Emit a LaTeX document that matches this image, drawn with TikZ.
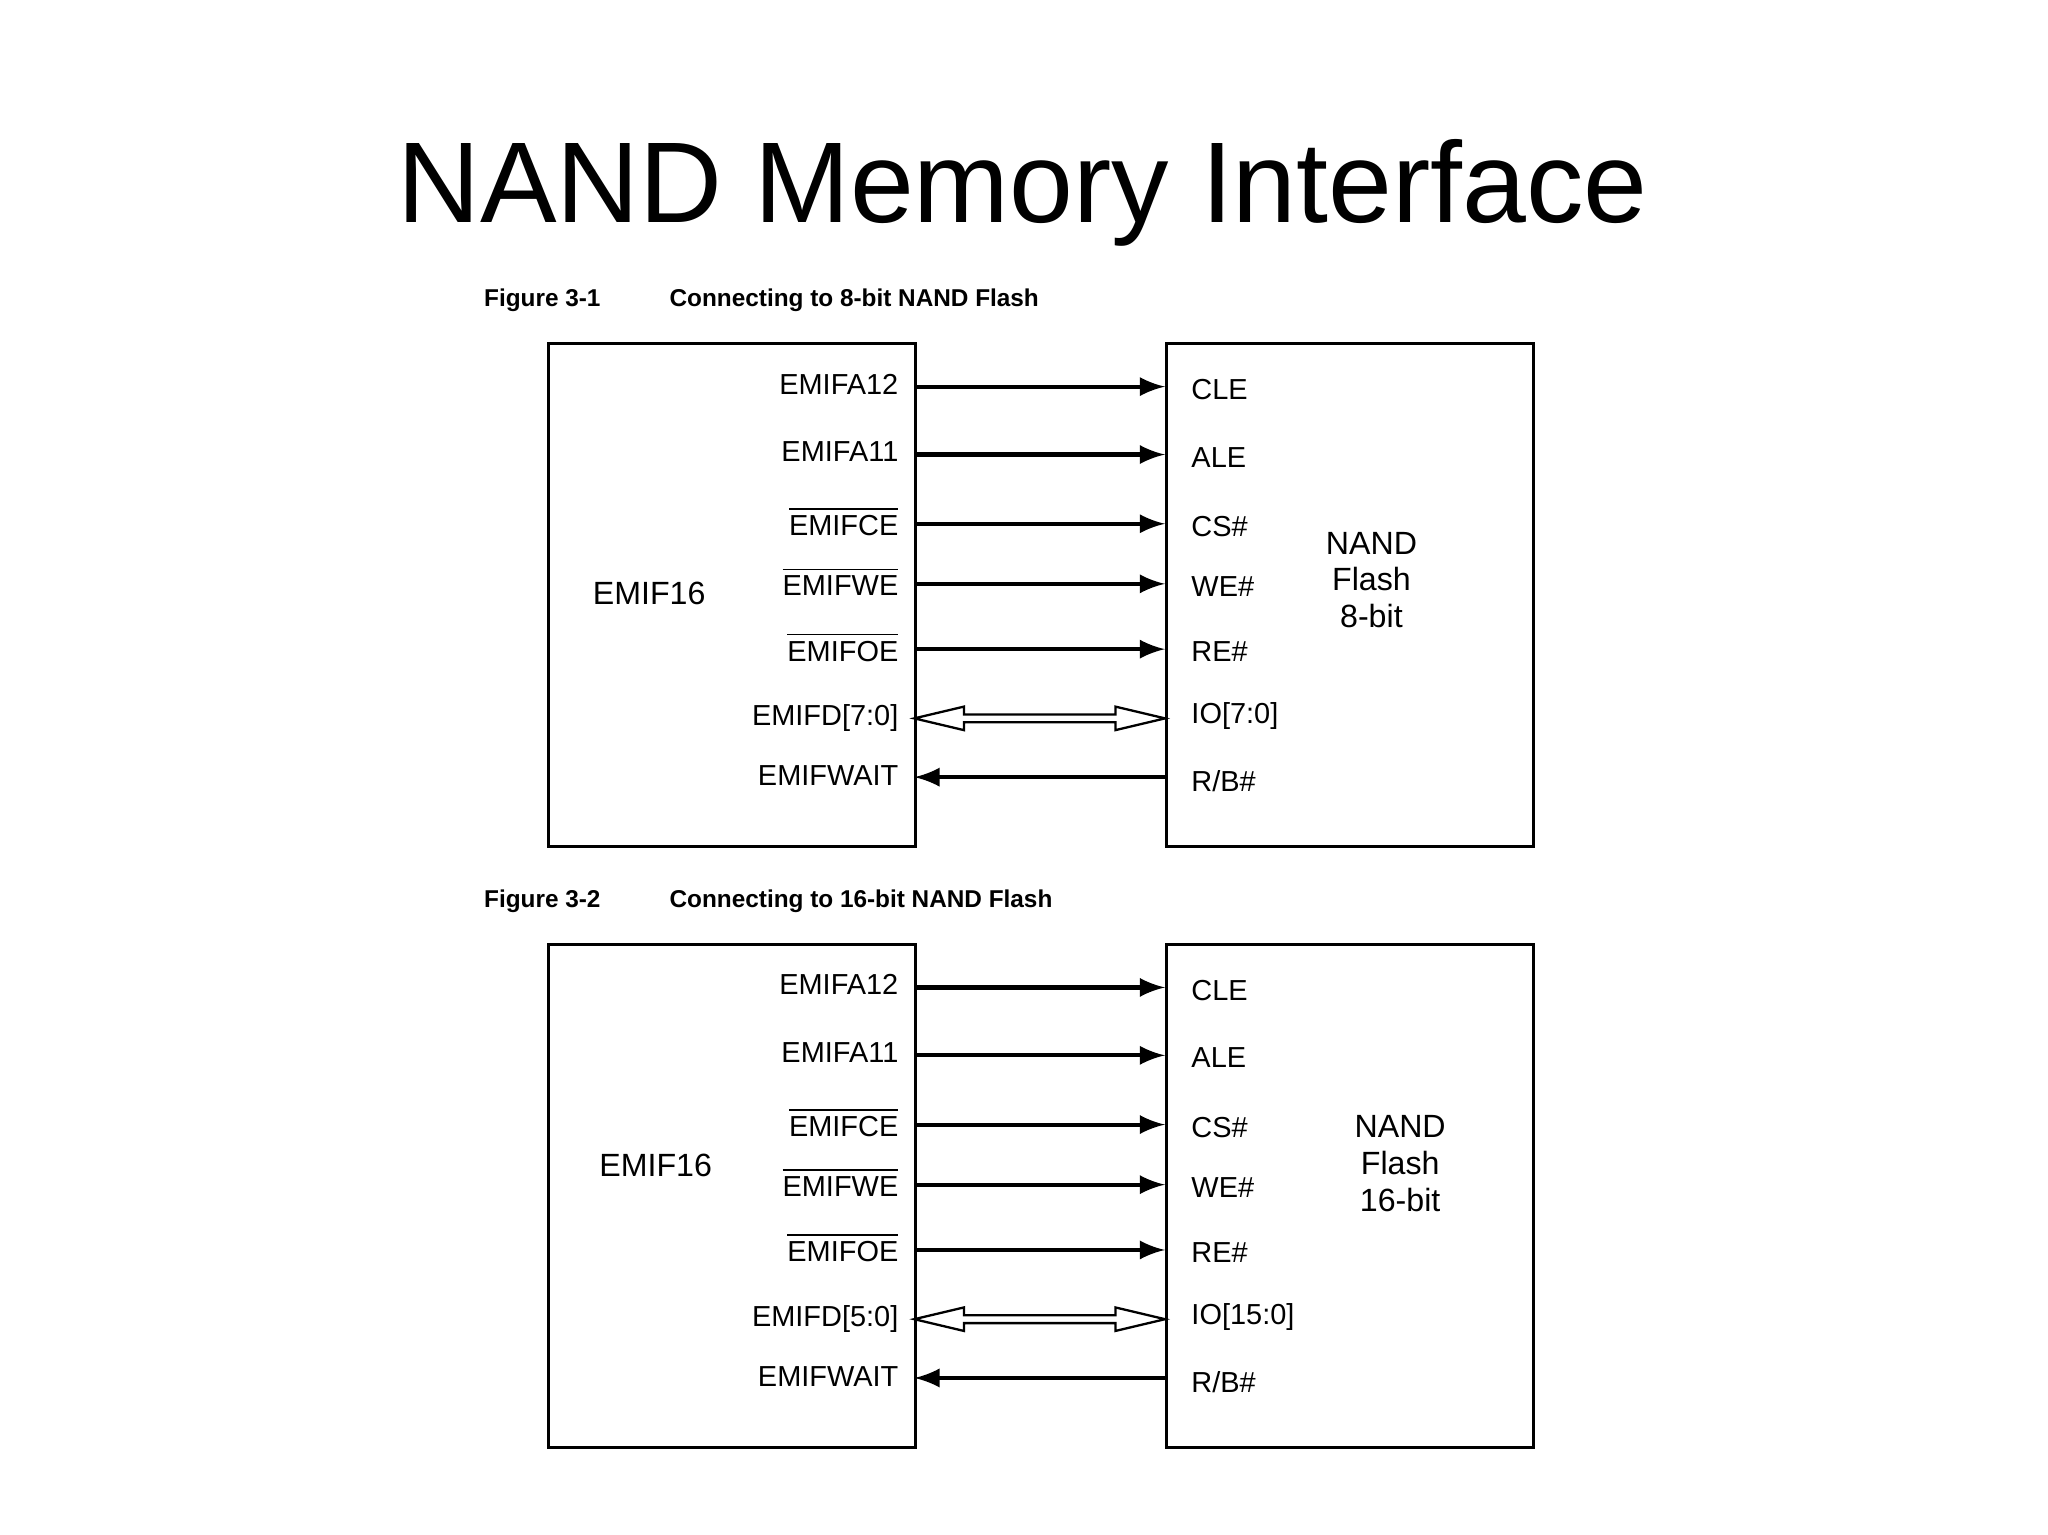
\documentclass[tikz,border=0pt]{standalone}
\usepackage{fontspec}
\setmainfont{Liberation Sans}
\begin{document}
\begin{tikzpicture}[x=0.01cm,y=-0.01cm,
  box/.style={draw,line width=0.6pt,minimum width=2.81cm,minimum height=3.85cm,anchor=north west,inner sep=0},
  lab/.style={font=\fontsize{6.3}{7}\selectfont,inner sep=1pt},
  sig/.style={line width=0.9pt,-latex},
  figcap/.style={font=\bfseries\fontsize{5.3}{6}\selectfont,anchor=west,inner sep=0}]
\useasboundingbox (0,0) rectangle (1568,1175);
\node[font=\fontsize{25}{28}\selectfont] (title) at (783,148) {NAND Memory Interface};
\newcommand{\fig}[8]{%
 \begin{scope}[yshift=#1*-0.01cm]
 \node[figcap] (#2c1) at (370,230) {Figure #3};
 \node[figcap] (#2c2) at (512,230) {Connecting to #4 NAND Flash};
 \node[box] (#2L) at (419,262) {};
 \node[box] (#2R) at (892,262) {};
 \node[lab,font=\fontsize{7}{8}\selectfont] (#2e) at (#5) {EMIF16};
 \node[lab,font=\fontsize{7}{8}\selectfont,align=center] (#2n) at (#6) {NAND\\Flash\\#4};
 \foreach \y/\a/\b/\i in {296/EMIFA12/CLE/1,348/EMIFA11/ALE/2,401/$\overline{\mbox{EMIFCE}}$/CS\#/3,447/$\overline{\mbox{EMIFWE}}$/WE\#/4,497/$\overline{\mbox{EMIFOE}}$/RE\#/5}{
  \node[lab,anchor=east] (#2a\i) at (692,\y-2) {\a};
  \node[lab,anchor=west] (#2b\i) at (908,\y+2) {\b};
  \coordinate (#2s\i) at (700,\y); \coordinate (#2t\i) at (892,\y);
  \draw[sig] (#2s\i) -- (#2t\i);}
 \node[lab,anchor=east] (#2a6) at (692,550) {#7};
 \node[lab,anchor=west] (#2b6) at (908,548) {#8};
 \coordinate (#2s6) at (700,550); \coordinate (#2t6) at (892,550);
 \draw[line width=0.5pt,fill=white] (#2s6) -- ++(38,-9) -- ++(0,6) -- ++(116,0) -- ++(0,-6) -- (#2t6) -- ++(-38,9) -- ++(0,-6) -- ++(-116,0) -- ++(0,6) -- cycle;
 \node[lab,anchor=east] (#2a7) at (692,594) {EMIFWAIT};
 \node[lab,anchor=west] (#2b7) at (908,598) {R/B\#};
 \coordinate (#2s7) at (700,595); \coordinate (#2t7) at (892,595);
 \draw[sig] (#2t7) -- (#2s7);
 \end{scope}}
\fig{0}{A}{3-1}{8-bit}{497,454}{1050,444}{EMIFD[7:0]}{IO[7:0]}
\fig{460}{B}{3-2}{16-bit}{502,432}{1072,431}{EMIFD[5:0]}{IO[15:0]}
\end{tikzpicture}
\end{document}
